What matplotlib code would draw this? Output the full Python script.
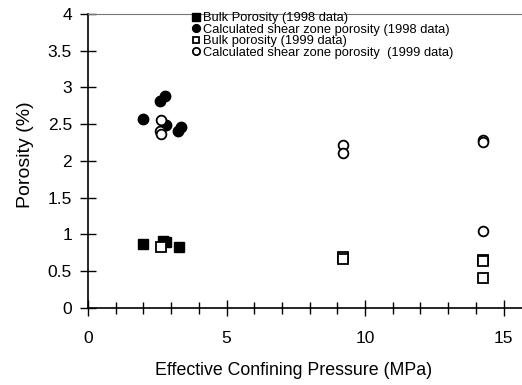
import matplotlib
matplotlib.use("Agg")
import matplotlib.pyplot as plt
from matplotlib.ticker import MultipleLocator

plt.rcParams['font.family'] = ['Liberation Sans', 'DejaVu Sans']

# 1998 data
bulk98_p = [1.97, 2.7, 2.8, 3.3]
bulk98_phi = [0.87, 0.91, 0.90, 0.82]
shear98_p = [1.97, 2.61, 2.77, 2.8, 3.25, 3.34]
shear98_phi = [2.57, 2.81, 2.88, 2.49, 2.41, 2.46]

# 1999 data
bulk99_p = [2.65, 9.2, 9.2, 14.25, 14.25, 14.25]
bulk99_phi = [0.83, 0.69, 0.67, 0.65, 0.63, 0.40]
shear99_p = [2.65, 2.61, 2.65, 9.2, 9.2, 14.25, 14.25, 14.25]
shear99_phi = [2.56, 2.41, 2.37, 2.21, 2.11, 2.29, 2.25, 1.05]

fig = plt.figure(figsize=(5.22, 3.85), dpi=100)
ax = fig.add_axes([88 / 522, 77.3 / 385, 434 / 522, 293.7 / 385])

ax.plot(bulk98_p, bulk98_phi, 's', color='black', ms=7, ls='none',
        label='Bulk Porosity (1998 data)')
ax.plot(shear98_p, shear98_phi, 'o', color='black', ms=7.5, ls='none',
        label='Calculated shear zone porosity (1998 data)')
ax.plot(bulk99_p, bulk99_phi, 's', mfc='white', mec='black', mew=1.3,
        ms=6.5, ls='none', label='Bulk porosity (1999 data)')
ax.plot(shear99_p, shear99_phi, 'o', mfc='white', mec='black', mew=1.3,
        ms=7, ls='none', label='Calculated shear zone porosity  (1999 data)')

ax.set_xlim(0, 434 / 27.7)
ax.set_ylim(0, 4)
ax.xaxis.set_major_locator(MultipleLocator(5))
ax.xaxis.set_minor_locator(MultipleLocator(1))
ax.set_yticks([0, 0.5, 1, 1.5, 2, 2.5, 3, 3.5, 4])
ax.set_yticklabels(['0', '0.5', '1', '1.5', '2', '2.5', '3', '3.5', '4'])

ax.tick_params(axis='both', which='major', direction='inout', length=11,
               width=1, labelsize=12.5)
ax.tick_params(axis='x', which='major', pad=11)
ax.tick_params(axis='x', which='minor', direction='inout', length=8, width=1)
ax.tick_params(axis='y', which='major', pad=6)

ax.spines['right'].set_visible(False)
ax.spines['top'].set_color('#777777')
ax.spines['left'].set_linewidth(1.2)
ax.spines['bottom'].set_linewidth(1.2)

# x label sits a little left of the axes centre in the original
ax.set_xlabel('Effective Confining Pressure (MPa)', fontsize=12.8,
              labelpad=12, x=(293.5 - 88) / 434)
ax.set_ylabel('Porosity (%)', fontsize=14, labelpad=10, y=0.52)

ax.legend(loc='upper left', bbox_to_anchor=(184 / 522, 1 - 6 / 385),
          bbox_transform=fig.transFigure, frameon=False, fontsize=9.3,
          handletextpad=0.05, handlelength=0.9, borderpad=0,
          labelspacing=-0.05, markerscale=0.75)

fig.savefig('out.png', dpi=100)
